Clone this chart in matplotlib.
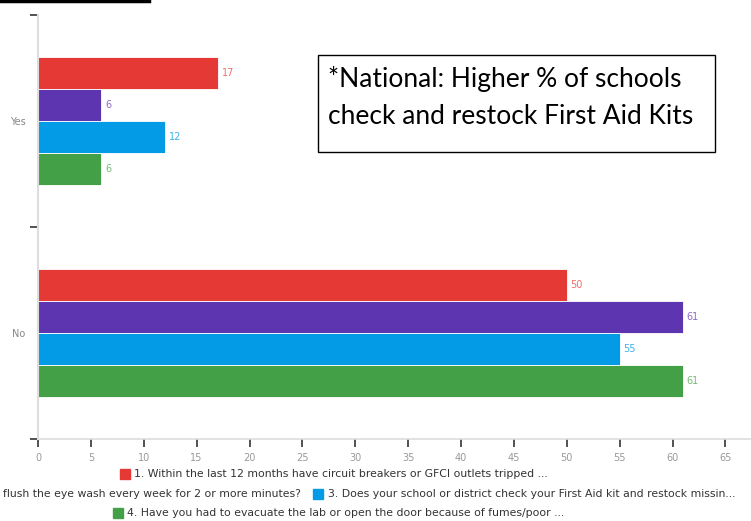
import matplotlib
matplotlib.use("Agg")
import matplotlib.pyplot as plt
from matplotlib.patches import Rectangle
from matplotlib.lines import Line2D
import numpy as np

# data
categories = ["Yes", "No"]
series_names = [
    "1. Within the last 12 months have circuit breakers or GFCI outlets tripped ...",
    "flush the eye wash every week for 2 or more minutes?",  # cut off at the left in the reference
    "3. Does your school or district check your First Aid kit and restock missin...",
    "4. Have you had to evacuate the lab or open the door because of fumes/poor ...",
]
yes_values = [17, 6, 12, 6]
no_values = [50, 61, 55, 61]
bar_colors = ["#E53935", "#5E35B1", "#039BE5", "#43A047"]
label_colors = ["#EF6F6C", "#8E6CC8", "#3DB2EC", "#76BB78"]
note_lines = ["*National: Higher % of schools", "check and restock First Aid Kits"]

W, H = 751, 521
fig = plt.figure(figsize=(W / 100, H / 100), dpi=100)
ax = fig.add_axes([38 / W, 1 - 439 / H, 1 - 38 / W, (439 - 15) / H])

narrow = ["Liberation Sans Narrow", "DejaVu Sans"]

bar_h = 0.15
values = np.array([yes_values, no_values])
for i in range(len(series_names)):
    ys = np.arange(len(categories)) + 0.2 + bar_h * (i + 0.5)
    ax.barh(ys, values[:, i], height=bar_h, color=bar_colors[i],
            edgecolor="white", linewidth=0.6)
    for y, v in zip(ys, values[:, i]):
        ax.text(v + 0.35, y, str(v), color=label_colors[i], fontsize=7,
                va="center", ha="left", family=narrow)

ax.set_ylim(2, 0)
ax.set_xlim(0, (W - 38) / 10.575)
ax.set_yticks([0, 1, 2])
ax.set_yticklabels([])
ax.set_yticks([0.5, 1.5], minor=True)
ax.set_yticklabels(categories, minor=True, color="#888888", fontsize=7, family=narrow)
ax.tick_params(axis="y", which="major", length=6, width=1.2, color="#333333")
ax.tick_params(axis="y", which="minor", length=0, pad=9)

ax.set_xticks(np.arange(0, 66, 5))
ax.tick_params(axis="x", length=6, width=1.2, color="#333333", labelsize=7,
               labelcolor="#999999", pad=4)
for lab in ax.get_xticklabels():
    lab.set_family(narrow)

for s in ["top", "right"]:
    ax.spines[s].set_visible(False)
ax.spines["left"].set_color("#dddddd")
ax.spines["left"].set_linewidth(1.5)
ax.spines["bottom"].set_color("#dddddd")
ax.spines["bottom"].set_linewidth(1.2)

# note box
for line, yp in zip(note_lines, [79, 116]):
    fig.text(328 / W, 1 - yp / H, line, fontsize=19, family=["Lato", "DejaVu Sans"],
             va="center", ha="left")
fig.patches.append(Rectangle((318 / W, 1 - 152 / H), 397 / W, 97 / H,
                             transform=fig.transFigure, fill=False,
                             edgecolor="black", linewidth=1))

# cropped title underline at the top
fig.lines.append(Line2D([0, 149 / W], [1 - 1 / H, 1 - 1 / H], transform=fig.transFigure,
                        color="black", linewidth=2.5))

# legend rows, drawn by hand: (series index, marker x or None, text x, row y)
legend_items = [(0, 120, 134, 474), (1, None, 3, 494), (2, 313, 328, 494), (3, 113, 127, 513)]
for k, mx, tx, yp in legend_items:
    if mx is not None:
        fig.patches.append(Rectangle((mx / W, 1 - (yp + 5) / H), 10 / W, 10 / H,
                                     transform=fig.transFigure, color=bar_colors[k]))
    fig.text(tx / W, 1 - yp / H, series_names[k], fontsize=7.8,
             family=narrow, color="#333333", va="center", ha="left")

fig.savefig("out.png", dpi=100)
